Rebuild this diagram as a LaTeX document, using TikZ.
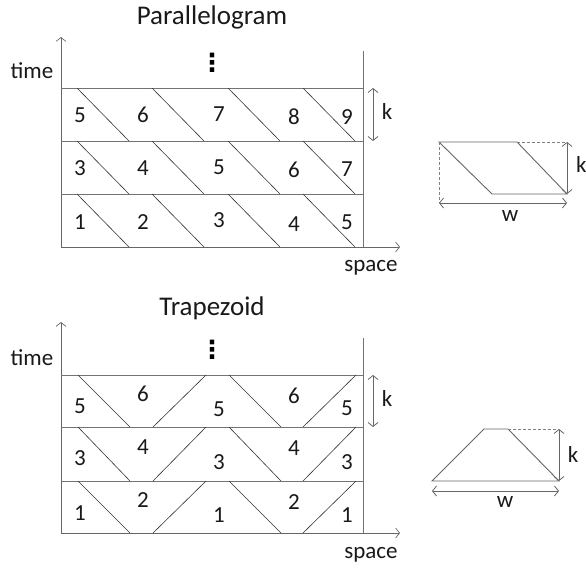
\documentclass[tikz,border=0pt]{standalone}
\usepackage{fontspec}
\setmainfont{Carlito}
\newfontfamily\symfont{DejaVu Sans}
\usetikzlibrary{arrows.meta}
\begin{document}
\begin{tikzpicture}[x=1pt,y=-1pt,
  gridline/.style={draw=black!55, line width=0.9pt},
  diag/.style={draw=black!80, line width=0.6pt},
  axisline/.style={draw=black!60, line width=0.7pt, -{Straight Barb[length=4pt,width=10pt]}},
  dimline/.style={draw=black!60, line width=0.8pt, {Straight Barb[length=4pt,width=10pt]}-{Straight Barb[length=4pt,width=10pt]}},
  dotline/.style={draw=black!50, line width=0.6pt, densely dashed},
  shapeline/.style={draw=black!60, line width=0.9pt},
  lbl/.style={font=\fontsize{23}{26}\selectfont, inner sep=0pt, text=black!90},
  ttl/.style={font=\fontsize{27}{30}\selectfont, inner sep=0pt, text=black!90},
  vdots/.style={font=\symfont\bfseries\fontsize{25}{28}\selectfont, inner sep=0pt}]
\useasboundingbox (0,0) rectangle (586,568);

% ===================== Parallelogram =====================
\node[ttl] (ptitle) at (212,17) {Parallelogram};
\coordinate (po) at (61,247);
\coordinate (py) at (61,37);
\coordinate (px) at (400,247);
\draw[axisline] (po) -- (py);
\draw[axisline] (po) -- (px);
\draw[gridline] (363,51) -- (363,247);
\foreach \y in {88,141,194}{\draw[gridline] (61,\y) -- (363,\y);}
\foreach \t/\b in {88/141,141/194,194/247}{
  \foreach \x in {77,152,228,303}{\draw[diag] (\x,\t) -- ({\x+52},\b);}
}
\node[lbl] (ptime) at (32,71) {time};
\node[lbl] (pspace) at (371,268) {space};
\node[vdots] (pdots) at (212,63) {⋮};
% numbers
\foreach \n/\x/\y [count=\i] in {1/80/222,2/143/222,3/219/220,4/294/224,5/347/222,
  3/80/168,4/143/168,5/219/167,6/294/170,7/347/169,
  5/80/115,6/143/115,7/219/114,8/294/117,9/347/117}{
  \node[lbl] (pn\i) at (\x,\y) {\n};
}
\coordinate (pk1) at (373,88);
\coordinate (pk2) at (373,141);
\draw[dimline] (pk1) -- (pk2);
\node[lbl] (pk) at (387,112) {k};
% small parallelogram
\coordinate (sa) at (439,142);
\coordinate (sb) at (517,142);
\coordinate (sc) at (567,194);
\coordinate (sd) at (492,194);
\coordinate (se) at (567,142);
\coordinate (sf) at (439,203);
\coordinate (sg) at (567,203);
\draw[shapeline] (sd) -- (sa) -- (sb) -- (sc) -- cycle;
\draw[dotline] (sb) -- (se);
\draw[dotline] (sa) -- (sf);
\draw[dimline] (se) -- (sc);
\draw[dimline] (sf) -- (sg);
\node[lbl, anchor=west] (sk) at (576,165) {k};
\node[lbl] (sw) at (510,216) {w};

% ===================== Trapezoid =====================
\node[ttl] (ttitle) at (212,308) {Trapezoid};
\coordinate (to) at (61,533);
\coordinate (ty) at (61,322);
\coordinate (tx) at (400,533);
\draw[axisline] (to) -- (ty);
\draw[axisline] (to) -- (tx);
\draw[gridline] (363,338) -- (363,533);
\foreach \y in {375,427,481}{\draw[gridline] (61,\y) -- (363,\y);}
\foreach \t/\b in {375/427,427/481,481/533}{
  \draw[diag] (78,\t) -- (130,\b);
  \draw[diag] (153,\b) -- (206,\t);
  \draw[diag] (229,\t) -- (281,\b);
  \draw[diag] (303,\b) -- (356,\t);
}
\node[lbl] (ttime) at (32,358) {time};
\node[lbl] (tspace) at (371,555) {space};
\node[vdots] (tdots) at (212,350) {⋮};
\foreach \n/\x/\y [count=\i] in {1/80/513,2/143/500,1/219/515,2/294/502,1/347/515,
  3/80/458,4/143/447,3/219/462,4/294/448,3/347/462,
  5/80/406,6/143/394,5/219/409,6/294/396,5/347/408}{
  \node[lbl] (tn\i) at (\x,\y) {\n};
}
\coordinate (tk1) at (373,375);
\coordinate (tk2) at (373,427);
\draw[dimline] (tk1) -- (tk2);
\node[lbl] (tk) at (387,399) {k};
% small trapezoid
\coordinate (ta) at (432,481);
\coordinate (tb) at (484,429);
\coordinate (tc) at (508,429);
\coordinate (td) at (559,481);
\coordinate (te) at (559,429);
\coordinate (tf) at (432,491);
\coordinate (tg) at (559,491);
\draw[shapeline] (ta) -- (tb) -- (tc) -- (td) -- cycle;
\draw[dotline] (tc) -- (te);
\draw[dimline] (te) -- (td);
\draw[dimline] (tf) -- (tg);
\node[lbl] (tkk) at (573,455) {k};
\node[lbl] (tw) at (505,502) {w};
\end{tikzpicture}
\end{document}
